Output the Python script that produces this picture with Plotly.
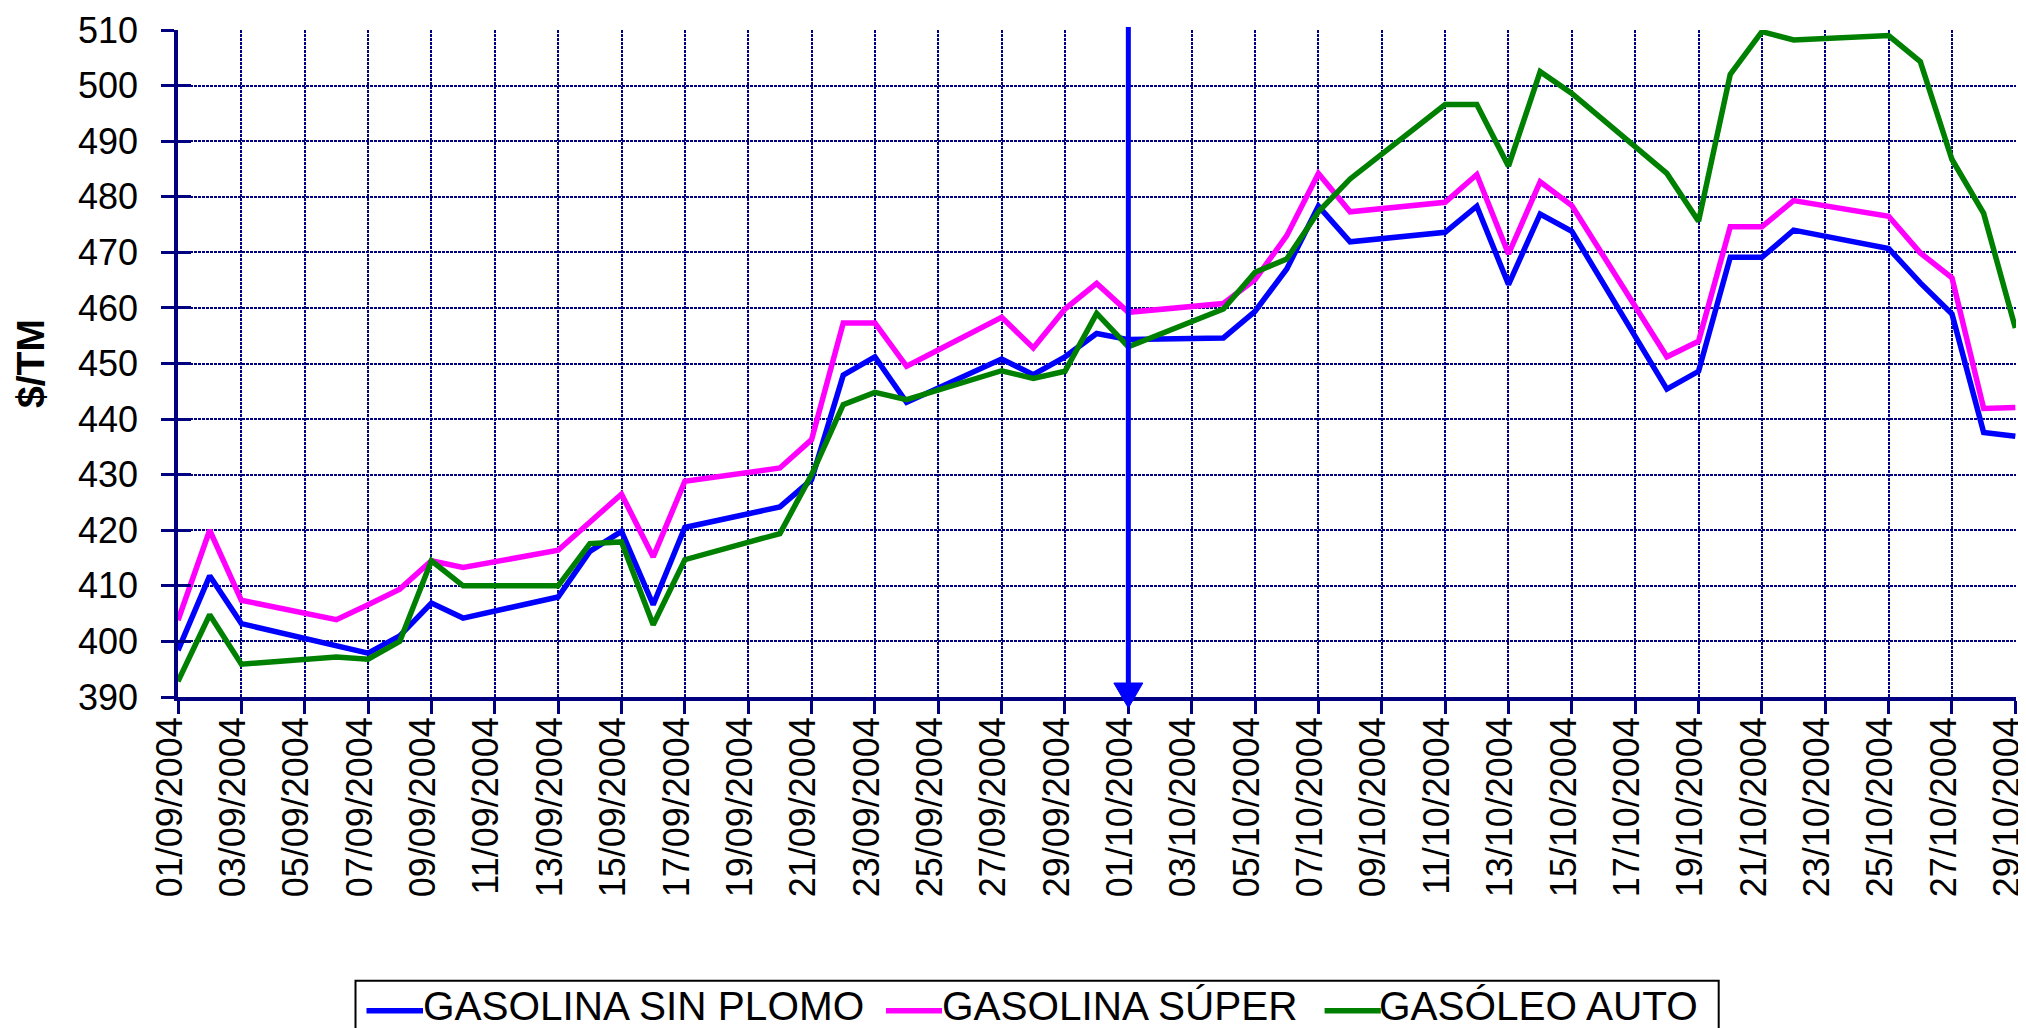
import plotly.graph_objects as go
import pandas as pd

# ---------------- data ----------------
dates = [
    "2004-09-01", "2004-09-02", "2004-09-03", "2004-09-06", "2004-09-07", "2004-09-08",
    "2004-09-09", "2004-09-10", "2004-09-13", "2004-09-14", "2004-09-15", "2004-09-16",
    "2004-09-17", "2004-09-20", "2004-09-21", "2004-09-22", "2004-09-23", "2004-09-24",
    "2004-09-27", "2004-09-28", "2004-09-29", "2004-09-30",
    "2004-10-01", "2004-10-04", "2004-10-05", "2004-10-06", "2004-10-07", "2004-10-08",
    "2004-10-11", "2004-10-12", "2004-10-13", "2004-10-14", "2004-10-15", "2004-10-18",
    "2004-10-19", "2004-10-20", "2004-10-21", "2004-10-22", "2004-10-25", "2004-10-26",
    "2004-10-27", "2004-10-28", "2004-10-29",
]

sin_plomo = [
    398.4, 411.8, 403.2, 399.1, 397.9, 401.0, 406.9, 404.2, 408.0, 416.2, 419.8, 406.6,
    420.5, 424.2, 429.1, 447.9, 451.2, 443.0, 450.8, 448.0, 451.2, 455.4,
    454.3, 454.6, 459.4, 467.0, 478.3, 471.9, 473.6, 478.3, 464.2, 476.9, 473.8, 445.4,
    448.6, 469.1, 469.1, 474.0, 470.7, 464.5, 458.9, 437.6, 436.9,
]

super_ = [
    403.8, 420.0, 407.4, 403.9, 406.6, 409.4, 414.5, 413.3, 416.4, 421.6, 426.5, 415.2,
    428.8, 431.2, 436.3, 457.3, 457.3, 449.5, 458.3, 452.8, 459.8, 464.4,
    459.2, 460.8, 465.1, 473.0, 484.2, 477.3, 479.0, 484.0, 469.7, 482.7, 478.4, 451.2,
    454.0, 474.6, 474.6, 479.3, 476.5, 469.9, 465.4, 441.9, 442.1,
]

gasoleo = [
    392.8, 404.8, 395.9, 397.2, 396.8, 400.0, 414.5, 410.0, 410.0, 417.6, 417.9, 403.0,
    414.7, 419.4, 430.0, 442.6, 444.8, 443.5, 448.7, 447.3, 448.6, 459.0,
    453.0, 459.8, 466.4, 468.8, 477.3, 483.2, 496.6, 496.6, 485.5, 502.5, 498.6, 484.2,
    475.6, 502.0, 509.7, 508.2, 509.0, 504.3, 486.7, 477.0, 456.4,
]

series_names = ["GASOLINA SIN PLOMO", "GASOLINA SÚPER", "GASÓLEO AUTO"]
series_colors = ["#0000FF", "#FF00FF", "#008000"]

x_start = "2004-09-01"
x_end = "2004-10-29 00:30:00"
y_range = [390, 510]
y_title = "$/TM"
arrow_date = "2004-10-01"

NAVY = "#000080"
FONT = "Liberation Sans, Arial, sans-serif"

# ---------------- layout geometry (pixels) ----------------
W, H = 2026, 1028
ML, MR, MT, MB = 170, 18, 22, 339
PW, PH = W - ML - MR, H - MT - MB


def px_to_paper_x(px):
    return (px - ML) / PW


def px_to_paper_y(py):
    return (H - MB - py) / PH


fig = go.Figure()
for name, vals, col in zip(series_names, [sin_plomo, super_, gasoleo], series_colors):
    fig.add_trace(go.Scatter(
        x=dates, y=vals, name=name, mode="lines",
        line=dict(color=col, width=5.5), cliponaxis=False, showlegend=False,
    ))

# invisible trace to carry the inner-tick overlay axis
fig.add_trace(go.Scatter(x=[dates[0]], y=[y_range[0]], yaxis="y2", mode="markers",
                         marker=dict(opacity=0), showlegend=False, hoverinfo="skip"))

# ---------------- vertical arrow at 01/10/2004 ----------------
t0, t1 = pd.Timestamp(x_start), pd.Timestamp(x_end)
ax_paper = (pd.Timestamp(arrow_date) - t0) / (t1 - t0)
fig.add_shape(type="line", xref="paper", yref="paper",
              x0=ax_paper, x1=ax_paper, y0=px_to_paper_y(678), y1=px_to_paper_y(19),
              line=dict(color="#0000FF", width=5), layer="above")
fig.add_shape(type="path", xref="paper", yref="paper",
              xsizemode="pixel", ysizemode="pixel", xanchor=ax_paper, yanchor=0,
              path="M-14.5,14 L14.5,14 L0,-11 Z",
              fillcolor="#0000FF", line=dict(color="#0000FF", width=1), layer="above")

# ---------------- legend (drawn box, samples and labels) ----------------
fig.add_shape(type="rect", xref="paper", yref="paper",
              x0=px_to_paper_x(347.5), x1=px_to_paper_x(1710.7),
              y0=px_to_paper_y(972.7), y1=px_to_paper_y(1060),
              line=dict(color="black", width=2), fillcolor="white", layer="above")
sample_x = [(358.5, 415), (878, 934), (1316.6, 1372.8)]
text_x = [414, 933, 1370]
for name, col, (s0, s1), tx in zip(series_names, series_colors, sample_x, text_x):
    fig.add_shape(type="line", xref="paper", yref="paper",
                  x0=px_to_paper_x(s0), x1=px_to_paper_x(s1),
                  y0=px_to_paper_y(1002.7), y1=px_to_paper_y(1002.7),
                  line=dict(color=col, width=5.5), layer="above")
    fig.add_annotation(text=name, xref="paper", yref="paper",
                       x=px_to_paper_x(tx), y=px_to_paper_y(998),
                       xanchor="left", yanchor="middle", showarrow=False,
                       font=dict(family=FONT, size=40.5, color="black"), borderpad=0)

fig.update_layout(
    width=W, height=H,
    margin=dict(l=ML, r=MR, t=MT, b=MB, autoexpand=False),
    paper_bgcolor="white", plot_bgcolor="white",
    font=dict(family=FONT, color="black", size=35),
    showlegend=False,
    xaxis=dict(
        type="date", range=[x_start, x_end], tick0=x_start, dtick=2 * 86400000,
        tickformat="%d/%m/%Y", tickangle=-90,
        ticks="outside", ticklen=13, tickwidth=3, tickcolor=NAVY,
        ticklabelstandoff=-11, ticklabelshift=-8, ticklabeloverflow="allow",
        showline=True, linecolor=NAVY, linewidth=3.5,
        showgrid=True, gridcolor=NAVY, gridwidth=1.5, griddash="3px,1px",
        zeroline=False, tickfont=dict(size=36, family=FONT),
    ),
    yaxis=dict(
        range=y_range, dtick=10, tick0=390,
        ticks="outside", ticklen=13, tickwidth=3, tickcolor=NAVY,
        ticklabelstandoff=16,
        showline=True, linecolor=NAVY, linewidth=3.5,
        showgrid=True, gridcolor=NAVY, gridwidth=1.5, griddash="3px,1px",
        zeroline=False, tickfont=dict(size=36, family=FONT),
        title=dict(text="<b>" + y_title + "</b>",
                   font=dict(size=39, family=FONT, color="black"), standoff=22),
    ),
    yaxis2=dict(
        overlaying="y", anchor="x", side="left", range=y_range, dtick=10, tick0=390,
        ticks="inside", ticklen=13, tickwidth=3, tickcolor=NAVY,
        showticklabels=False, showgrid=False, showline=False, zeroline=False,
    ),
)

fig.write_html("out.html")
